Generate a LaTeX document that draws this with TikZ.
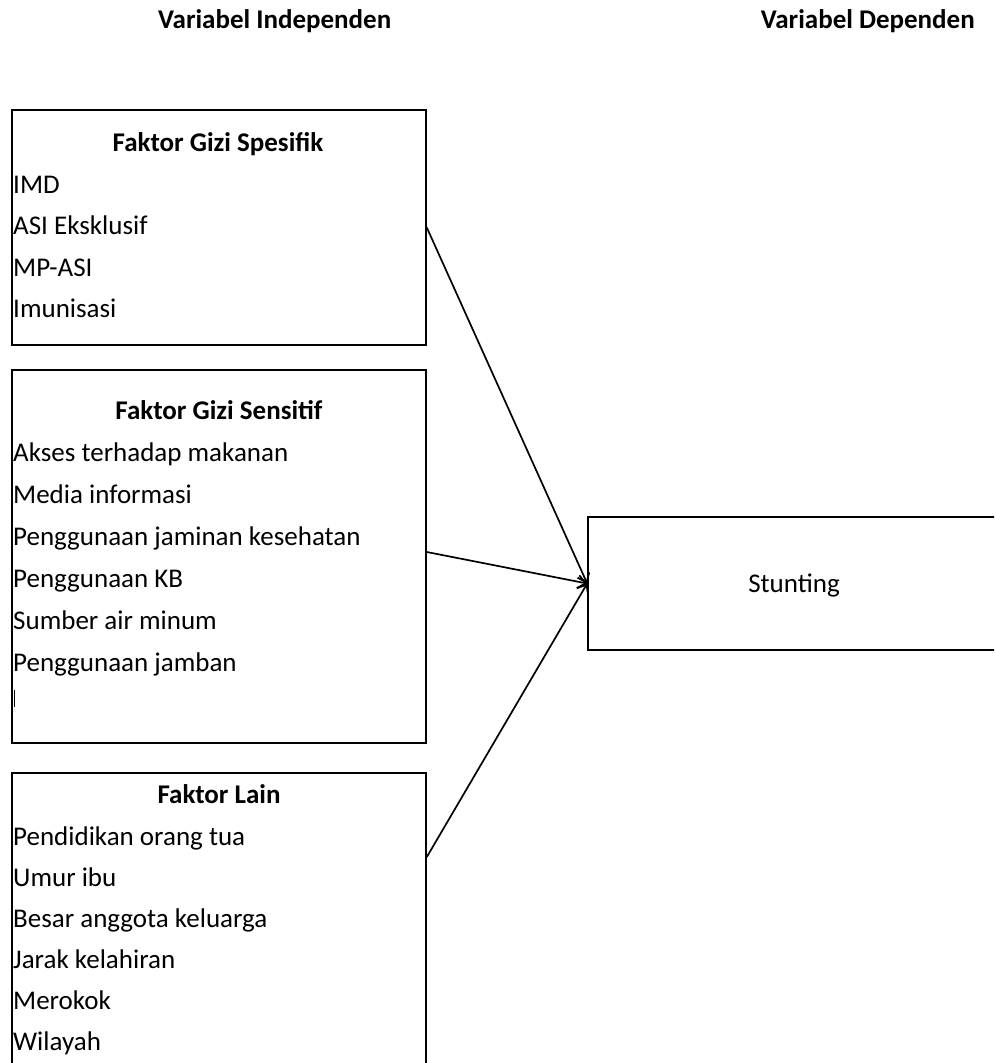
\documentclass[tikz,border=0pt]{standalone}
\usepackage{fontspec}
\setmainfont{Carlito}
\usetikzlibrary{arrows.meta}

\tikzset{
	box/.style={draw,line width=1.6pt,inner sep=0pt},
	item/.style={anchor=base west,inner sep=0pt,font=\fontsize{27}{30}\selectfont},
	head/.style={anchor=base,inner sep=0pt,font=\bfseries\fontsize{27}{30}\selectfont},
	link/.style={line width=1.7pt,-{Straight Barb[length=8pt,width=13pt]}}
}

\begin{document}
\begin{tikzpicture}[x=1pt,y=1pt]
		\useasboundingbox (0,0) rectangle (994,-1063);
		\clip (0,0) rectangle (994,-1063);
		
		\node[head,anchor=base west] (indep) at (158,-28) {Variabel Independen};
		\node[head,anchor=base east] (dep) at (975,-28) {Variabel Dependen};
		
		% boxes
		\node[box,minimum width=414pt,minimum height=235pt] (spesifik) at (219,-227.5) {};
		\node[box,minimum width=414pt,minimum height=373pt] (sensitif) at (219,-556.5) {};
		\node[box,minimum width=414pt,minimum height=330pt] (lain) at (219,-938) {};
		\node[box,minimum width=424pt,minimum height=133pt] (stunting) at (800,-583.5) {};
		\node[item,anchor=base] (stuntlbl) at (794,-592) {Stunting};
		
		% Faktor Gizi Spesifik
		\node[head] (t1) at (218,-151) {Faktor Gizi Spesifik};
		\node[item] (imd) at (13,-193) {IMD};
		\node[item] (asi) at (13,-234.5) {ASI Eksklusif};
		\node[item] (mpasi) at (13,-276) {MP-ASI};
		\node[item] (imun) at (13,-317.5) {Imunisasi};
		
		% Faktor Gizi Sensitif
		\node[head] (t2) at (219,-419) {Faktor Gizi Sensitif};
		\node[item] (akses) at (13,-461) {Akses terhadap makanan};
		\node[item] (media) at (13,-503) {Media informasi};
		\node[item] (jamkes) at (13,-545) {Penggunaan jaminan kesehatan};
		\node[item] (kb) at (13,-587) {Penggunaan KB};
		\node[item] (air) at (13,-629) {Sumber air minum};
		\node[item] (jamban) at (13,-671) {Penggunaan jamban};
		\draw[line width=0.8pt] (14,-690) -- (14,-707);
		
		% Faktor Lain
		\node[head] (t3) at (219,-803) {Faktor Lain};
		\node[item] (didik) at (13,-845) {Pendidikan orang tua};
		\node[item] (umur) at (13,-886) {Umur ibu};
		\node[item] (anggota) at (13,-927) {Besar anggota keluarga};
		\node[item] (jarak) at (13,-968) {Jarak kelahiran};
		\node[item] (rokok) at (13,-1009) {Merokok};
		\node[item] (wilayah) at (13,-1050) {Wilayah};
		
		% arrows
		\coordinate (s2) at (sensitif.east |- 0,-552);
		\coordinate (s3) at (lain.east |- 0,-857);
		\draw[link] (spesifik.east) -- (stunting.west);
		\draw[link] (s2) -- (stunting.west);
		\draw[link] (s3) -- (stunting.west);
	\end{tikzpicture}
\end{document}
